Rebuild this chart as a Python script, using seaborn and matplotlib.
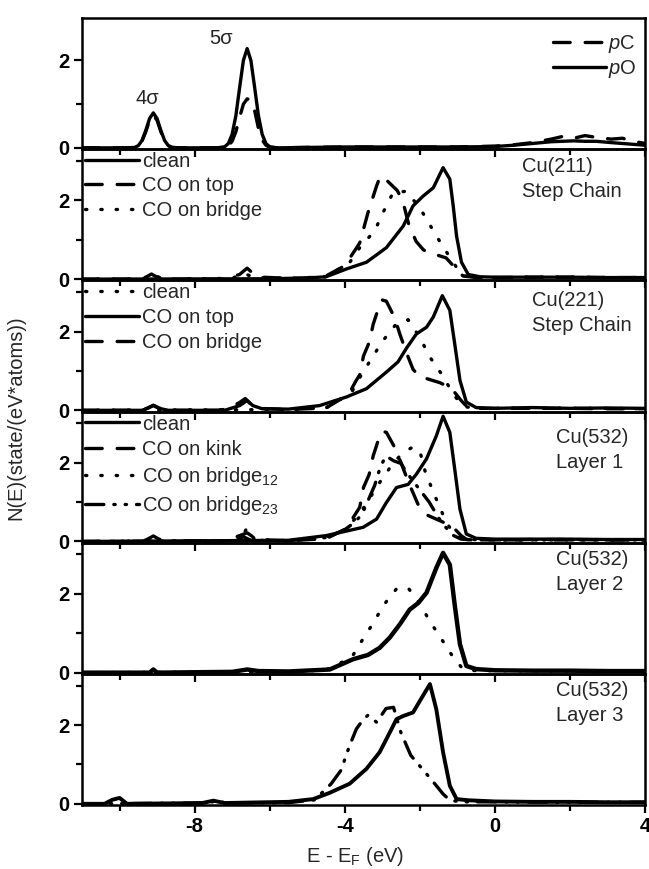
import matplotlib
matplotlib.use("Agg")
import matplotlib.pyplot as plt
import seaborn as sns
from matplotlib.lines import Line2D

# ---------------- data ----------------
# Panel 1: free CO molecule
co_E  = [-11.0, -9.8, -9.6, -9.5, -9.4, -9.3, -9.2, -9.1, -9.0, -8.9, -8.8, -8.7, -8.6, -8.4, -7.4, -7.2,
         -7.1, -7.0, -6.9, -6.8, -6.7, -6.6, -6.5, -6.4, -6.3, -6.2, -6.1, -6.0, -5.8, -5.0, -4.0, -3.0,
         -2.0, -1.0, 0.0, 0.5, 1.0, 1.5, 1.8, 2.1, 2.4, 2.7, 3.1, 3.4, 3.7, 4.0]
co_pO = [0.0, 0.0, 0.01, 0.05, 0.17, 0.4, 0.67, 0.8, 0.67, 0.4, 0.17, 0.05, 0.01, 0.0, 0.0, 0.025,
         0.1, 0.31, 0.74, 1.38, 2.0, 2.27, 2.0, 1.38, 0.74, 0.31, 0.1, 0.025, 0.0, 0.01, 0.02, 0.02,
         0.02, 0.02, 0.03, 0.06, 0.1, 0.14, 0.15, 0.16, 0.15, 0.15, 0.12, 0.1, 0.08, 0.06]
co_pC = [0.0, 0.0, 0.01, 0.05, 0.16, 0.37, 0.63, 0.75, 0.63, 0.37, 0.16, 0.05, 0.01, 0.0, 0.0, 0.01,
         0.05, 0.15, 0.37, 0.7, 1.0, 1.12, 1.1, 0.85, 0.45, 0.18, 0.06, 0.015, 0.0, 0.01, 0.02, 0.02,
         0.02, 0.02, 0.04, 0.07, 0.12, 0.2, 0.26, 0.22, 0.28, 0.24, 0.2, 0.22, 0.15, 0.1]

# Panel 2: Cu(211) step chain
p2_clean_E = [-11.0, -6.0, -5.0, -4.5, -3.95, -3.42, -2.89, -2.44, -2.18, -1.91, -1.64, -1.38, -1.2, -1.11,
              -1.02, -0.89, -0.71, -0.4, 0.0, 1.0, 2.0, 3.0, 4.0]
p2_clean_N = [0.0, 0.01, 0.03, 0.06, 0.26, 0.43, 0.8, 1.35, 1.86, 2.11, 2.32, 2.83, 2.54, 1.86,
              1.09, 0.43, 0.12, 0.06, 0.05, 0.05, 0.05, 0.04, 0.04]
p2_top_E = [-11.0, -9.5, -9.3, -9.15, -9.0, -8.8, -7.2, -7.0, -6.8, -6.6, -6.45, -6.2, -5.5, -5.0, -4.5, -4.0,
            -3.6, -3.38, -3.15, -3.05, -2.85, -2.6, -2.45, -2.3, -2.1, -1.9, -1.6, -1.3, -1.05, -0.85, -0.5,
            0.0, 1.0, 2.0, 3.0, 4.0]
p2_top_N = [0.0, 0.0, 0.05, 0.13, 0.05, 0.0, 0.0, 0.06, 0.12, 0.28, 0.15, 0.05, 0.02, 0.03, 0.08, 0.34,
            0.92, 1.69, 2.37, 2.62, 2.48, 2.25, 1.97, 1.41, 0.96, 0.74, 0.63, 0.54, 0.28, 0.08, 0.04,
            0.04, 0.05, 0.05, 0.04, 0.04]
p2_bridge_E = [-11.0, -9.4, -9.1, -8.8, -7.0, -6.7, -6.4, -5.5, -4.49, -3.87, -3.6, -3.2, -2.98, -2.71, -2.36,
               -2.0, -1.69, -1.4, -1.11, -0.88, -0.5, 0.0, 1.0, 2.0, 3.0, 4.0]
p2_bridge_N = [0.0, 0.0, 0.1, 0.0, 0.02, 0.15, 0.04, 0.02, 0.06, 0.42, 0.8, 1.23, 1.69, 2.2, 2.23,
               1.81, 1.31, 0.85, 0.43, 0.09, 0.04, 0.04, 0.05, 0.05, 0.04, 0.04]

# Panel 3: Cu(221) step chain
p3_clean_E = [-11.0, -5.5, -4.5, -3.82, -3.6, -3.29, -2.98, -2.62, -2.31, -2.0, -1.73, -1.42, -1.1, -0.85,
              -0.5, 0.0, 1.0, 2.0, 3.0, 4.0]
p3_clean_N = [0.0, 0.02, 0.06, 0.45, 0.83, 1.31, 1.77, 2.2, 2.3, 1.85, 1.35, 0.92, 0.4, 0.1,
              0.05, 0.05, 0.06, 0.05, 0.05, 0.04]
p3_top_E = [-11.0, -9.4, -9.25, -9.1, -8.95, -8.7, -7.2, -7.0, -6.8, -6.6, -6.45, -6.2, -5.5, -4.67, -3.95,
            -3.42, -2.89, -2.58, -2.36, -2.09, -1.82, -1.64, -1.4, -1.2, -1.07, -0.93, -0.76, -0.5, 0.0,
            1.0, 2.0, 3.0, 4.0]
p3_top_N = [0.0, 0.0, 0.05, 0.12, 0.05, 0.0, 0.0, 0.06, 0.12, 0.25, 0.12, 0.04, 0.03, 0.12, 0.34,
            0.55, 0.97, 1.23, 1.57, 1.94, 2.11, 2.37, 2.91, 2.54, 1.69, 0.76, 0.21, 0.07, 0.05,
            0.07, 0.05, 0.06, 0.05]
p3_bridge_E = [-11.0, -9.4, -9.25, -9.1, -8.95, -8.7, -7.3, -7.0, -6.8, -6.65, -6.5, -6.3, -5.5, -4.5, -3.9,
               -3.7, -3.6, -3.5, -3.35, -3.24, -3.11, -3.0, -2.89, -2.67, -2.53, -2.35, -2.18, -2.0, -1.8,
               -1.46, -1.25, -1.1, -0.9, -0.76, -0.5, 0.0, 1.0, 2.0, 3.0, 4.0]
p3_bridge_N = [0.0, 0.0, 0.06, 0.13, 0.06, 0.0, 0.0, 0.1, 0.2, 0.3, 0.15, 0.05, 0.02, 0.06, 0.4,
               0.75, 0.9, 1.38, 1.72, 2.19, 2.57, 2.8, 2.77, 2.35, 1.93, 1.45, 1.04, 0.85, 0.8,
               0.7, 0.6, 0.49, 0.25, 0.11, 0.05, 0.05, 0.05, 0.05, 0.04, 0.04]

# Panel 4: Cu(532) layer 1
p4_clean_E = [-11.0, -5.5, -4.49, -3.51, -3.15, -2.89, -2.62, -2.31, -2.09, -1.82, -1.56, -1.38, -1.2, -1.07,
              -0.93, -0.76, -0.5, 0.0, 1.0, 2.0, 3.0, 4.0]
p4_clean_N = [0.0, 0.03, 0.15, 0.36, 0.57, 0.99, 1.37, 1.45, 1.71, 2.1, 2.68, 3.18, 2.77, 1.84,
              0.82, 0.19, 0.08, 0.06, 0.06, 0.06, 0.05, 0.05]
p4_kink_E = [-11.0, -9.4, -9.25, -9.1, -8.95, -8.7, -7.3, -7.0, -6.8, -6.6, -6.45, -6.2, -5.5, -4.5, -4.0,
             -3.8, -3.6, -3.5, -3.35, -3.24, -3.11, -3.0, -2.89, -2.67, -2.5, -2.3, -2.05, -1.78, -1.4,
             -1.1, -0.9, -0.75, -0.5, 0.0, 1.0, 2.0, 3.0, 4.0]
p4_kink_N = [0.0, 0.0, 0.06, 0.14, 0.06, 0.0, 0.0, 0.08, 0.15, 0.22, 0.12, 0.04, 0.02, 0.07, 0.3,
             0.57, 0.87, 1.37, 1.7, 2.18, 2.56, 2.8, 2.77, 2.39, 2.0, 1.5, 0.95, 0.66, 0.5,
             0.35, 0.15, 0.05, 0.04, 0.04, 0.05, 0.05, 0.04, 0.04]
p4_b12_E = [-11.0, -6.8, -6.6, -6.4, -5.5, -4.5, -4.0, -3.6, -3.3, -3.0, -2.7, -2.45, -2.2, -2.0, -1.85,
            -1.55, -1.3, -1.1, -0.95, -0.7, 0.0, 2.0, 4.0]
p4_b12_N = [0.0, 0.02, 0.35, 0.05, 0.02, 0.1, 0.3, 0.7, 1.15, 1.6, 2.0, 2.25, 2.39, 2.3, 1.75,
            1.05, 0.5, 0.2, 0.1, 0.05, 0.04, 0.04, 0.04]
p4_b23_E = [-11.0, -6.9, -6.7, -6.5, -5.5, -4.5, -4.0, -3.8, -3.55, -3.35, -3.2, -3.05, -2.9, -2.7, -2.5,
            -2.35, -2.15, -1.95, -1.75, -1.5, -1.3, -1.1, -0.9, -0.6, 0.0, 2.0, 4.0]
p4_b23_N = [0.0, 0.02, 0.12, 0.03, 0.02, 0.1, 0.3, 0.44, 0.67, 1.1, 1.43, 1.9, 2.17, 2.05, 1.98,
            1.75, 1.5, 1.25, 1.0, 0.6, 0.35, 0.15, 0.06, 0.04, 0.04, 0.04, 0.04]

# Panel 5: Cu(532) layer 2
p5_solid_E = [-11.0, -9.2, -9.1, -9.0, -7.0, -6.6, -6.3, -5.5, -4.4, -3.78, -3.38, -3.07, -2.8, -2.53, -2.27,
              -2.04, -1.82, -1.56, -1.38, -1.2, -1.07, -0.93, -0.76, -0.5, 0.0, 1.0, 2.0, 3.0, 4.0]
p5_solid_N = [0.0, 0.0, 0.08, 0.0, 0.02, 0.08, 0.04, 0.03, 0.08, 0.34, 0.45, 0.63, 0.89, 1.23, 1.6,
              1.77, 2.03, 2.66, 3.04, 2.74, 1.72, 0.72, 0.17, 0.09, 0.06, 0.05, 0.05, 0.04, 0.04]
p5_dot_E = [-11.0, -5.5, -4.5, -3.82, -3.55, -3.24, -2.96, -2.62, -2.31, -2.0, -1.73, -1.42, -1.13, -0.85,
            -0.5, 0.0, 2.0, 4.0]
p5_dot_N = [0.0, 0.02, 0.07, 0.38, 0.8, 1.26, 1.72, 2.13, 2.15, 1.75, 1.3, 0.85, 0.42, 0.09,
            0.05, 0.05, 0.04, 0.04]

# Panel 6: Cu(532) layer 3
p6_solid_E = [-11.0, -10.4, -10.2, -10.0, -9.8, -7.8, -7.5, -7.2, -5.5, -4.84, -4.4, -3.87, -3.42, -3.07,
              -2.8, -2.62, -2.44, -2.18, -2.0, -1.73, -1.56, -1.38, -1.2, -1.02, -0.7, 0.0, 1.0, 2.0, 3.0, 4.0]
p6_solid_N = [0.0, 0.0, 0.1, 0.15, 0.0, 0.02, 0.08, 0.02, 0.05, 0.12, 0.28, 0.51, 0.89, 1.31,
              1.81, 2.15, 2.23, 2.32, 2.61, 3.04, 2.4, 1.31, 0.46, 0.12, 0.09, 0.06, 0.05, 0.05, 0.04, 0.04]
p6_dd_E = [-11.0, -7.6, -7.4, -7.2, -5.5, -4.8, -4.36, -4.1, -3.87, -3.69, -3.5, -3.38, -3.15, -2.9, -2.7,
           -2.5, -2.24, -2.0, -1.75, -1.55, -1.38, -1.2, -0.9, 0.0, 2.0, 4.0]
p6_dd_N = [0.0, 0.02, 0.1, 0.02, 0.03, 0.1, 0.51, 0.85, 1.48, 1.9, 2.15, 2.25, 2.07, 2.42, 2.45,
           1.8, 1.23, 0.96, 0.68, 0.45, 0.25, 0.09, 0.05, 0.05, 0.04, 0.04]

panel_titles = [None, ("Cu(211)", "Step Chain"), ("Cu(221)", "Step Chain"),
                ("Cu(532)", "Layer 1"), ("Cu(532)", "Layer 2"), ("Cu(532)", "Layer 3")]
x_major = [-8, -4, 0, 4]
x_minor = [-10, -6, -2, 2]

# ---------------- style ----------------
sns.set_theme(style="ticks")
plt.rcParams["font.family"] = ["Liberation Sans", "DejaVu Sans"]
plt.rcParams["mathtext.fontset"] = "custom"
plt.rcParams["mathtext.rm"] = "Liberation Sans"
plt.rcParams["mathtext.it"] = "Liberation Sans:italic"
plt.rcParams["axes.unicode_minus"] = False

FS = 14.5
LW = 2.4
SOLID = "-"
DASH = (0, (5, 4.5))
DOT = (0, (0.4, 4.2))
DASHDOT = (0, (5.5, 3, 0.4, 3, 0.4, 3))

fig = plt.figure(figsize=(6.49, 8.69), dpi=100)
left, right = 82 / 649, 645 / 649
top, bottom = 1 - 18 / 869, 1 - 805 / 869
gs = fig.add_gridspec(6, 1, left=left, right=right, top=top, bottom=bottom, hspace=0)
axes = [fig.add_subplot(gs[i]) for i in range(6)]
for a in axes[1:]:
    a.sharex(axes[0])


def draw(ax, E, N, ls, lw=LW):
    sns.lineplot(x=E, y=N, ax=ax, color="black", lw=lw, estimator=None, sort=False)
    ln = ax.lines[-1]
    ln.set_linestyle(ls)
    ln.set_dash_capstyle("round")
    ln.set_solid_capstyle("round")
    ln.set_solid_joinstyle("round")


def handle(ls):
    h = Line2D([], [], color="black", lw=LW, linestyle=ls)
    h.set_dash_capstyle("round")
    return h


def leg(ax, labels, styles, loc, bbox, hl=2.7, ls=0.26):
    lg = ax.legend([handle(s) for s in styles], labels, loc=loc, bbox_to_anchor=bbox,
                   frameon=False, fontsize=FS, handlelength=hl, handletextpad=0.12,
                   labelspacing=ls, borderaxespad=0.0, borderpad=0.15)
    return lg


# Panel 1
ax = axes[0]
draw(ax, co_E, co_pC, DASH)
draw(ax, co_E, co_pO, SOLID)
leg(ax, [r"$\it{p}$C", r"$\it{p}$O"], [DASH, SOLID], "upper right", (0.99, 0.91), hl=2.6, ls=0.18)
ax.text(-9.25, 0.92, "4σ", fontsize=FS, ha="center", va="bottom")
ax.text(-7.3, 2.28, "5σ", fontsize=FS, ha="center", va="bottom")

# Panel 2
ax = axes[1]
draw(ax, p2_bridge_E, p2_bridge_N, DOT)
draw(ax, p2_top_E, p2_top_N, DASH)
draw(ax, p2_clean_E, p2_clean_N, SOLID)
leg(ax, ["clean", "CO on top", "CO on bridge"], [SOLID, DASH, DOT], "upper left", (0.0, 1.0))

# Panel 3
ax = axes[2]
draw(ax, p3_clean_E, p3_clean_N, DOT)
draw(ax, p3_bridge_E, p3_bridge_N, DASH)
draw(ax, p3_top_E, p3_top_N, SOLID)
leg(ax, ["clean", "CO on top", "CO on bridge"], [DOT, SOLID, DASH], "upper left", (0.0, 1.0), ls=0.28)

# Panel 4
ax = axes[3]
draw(ax, p4_b12_E, p4_b12_N, DOT)
draw(ax, p4_b23_E, p4_b23_N, DASHDOT)
draw(ax, p4_kink_E, p4_kink_N, DASH)
draw(ax, p4_clean_E, p4_clean_N, SOLID)
leg(ax, ["clean", "CO on kink", r"CO on bridge$_{12}$", r"CO on bridge$_{23}$"],
    [SOLID, DASH, DOT, DASHDOT], "upper left", (0.0, 1.0), ls=0.3)

# Panel 5
ax = axes[4]
draw(ax, p5_dot_E, p5_dot_N, DOT)
draw(ax, p5_solid_E, p5_solid_N, SOLID, lw=3.2)

# Panel 6
ax = axes[5]
draw(ax, p6_dd_E, p6_dd_N, DASHDOT)
draw(ax, p6_solid_E, p6_solid_N, SOLID, lw=2.8)

# panel labels (left-aligned)
title_x = [None, 522, 532, 556, 556, 556]
title_dy = [None, (17, 42), (20, 45), (26, 51), (17, 42), (17, 42)]
for i in range(1, 6):
    ax = axes[i]
    xf = (title_x[i] - 82) / (645 - 82)
    l1, l2 = panel_titles[i]
    ax.text(xf, 1 - title_dy[i][0] / 131, l1, transform=ax.transAxes, fontsize=FS, ha="left", va="center")
    ax.text(xf, 1 - title_dy[i][1] / 131, l2, transform=ax.transAxes, fontsize=FS, ha="left", va="center")

# axes formatting
for i, ax in enumerate(axes):
    ax.set_facecolor("none")
    ax.set_xlim(-11, 4)
    if i == 0:
        ax.set_ylim(-0.03, 2.97)
        ax.set_yticks([1], minor=True)
    else:
        ax.set_ylim(-0.03, 3.3)
        ax.set_yticks([1, 3], minor=True)
    ax.set_yticks([0, 2])
    ax.set_yticklabels(["0", "2"])
    ax.set_xticks(x_major)
    ax.set_xticks(x_minor, minor=True)
    ax.tick_params(axis="both", which="major", direction="out", length=6, width=1.6,
                   labelsize=FS, colors="black", pad=3)
    ax.tick_params(axis="both", which="minor", direction="out", length=4, width=1.6, colors="black")
    ax.tick_params(axis="x", which="both", top=False, bottom=True, labelbottom=(i == 5))
    for lab in ax.get_yticklabels():
        lab.set_fontweight("bold")
    for s in ax.spines.values():
        s.set_visible(True)
        s.set_linewidth(1.8)
        s.set_color("black")
    ax.set_xlabel("")
    ax.set_ylabel("")

axes[5].set_xticklabels([str(v) for v in x_major])
for lab in axes[5].get_xticklabels():
    lab.set_fontweight("bold")

fig.text(0.024, (1 - 418 / 869), "N(E)(state/(eV*atoms))", rotation=90, fontsize=FS,
         ha="center", va="center")
fig.text(355 / 649, 1 - 856 / 869, r"E - E$_\mathrm{F}$ (eV)", fontsize=FS, ha="center", va="center")

fig.savefig("out.png", dpi=100, facecolor="white")
